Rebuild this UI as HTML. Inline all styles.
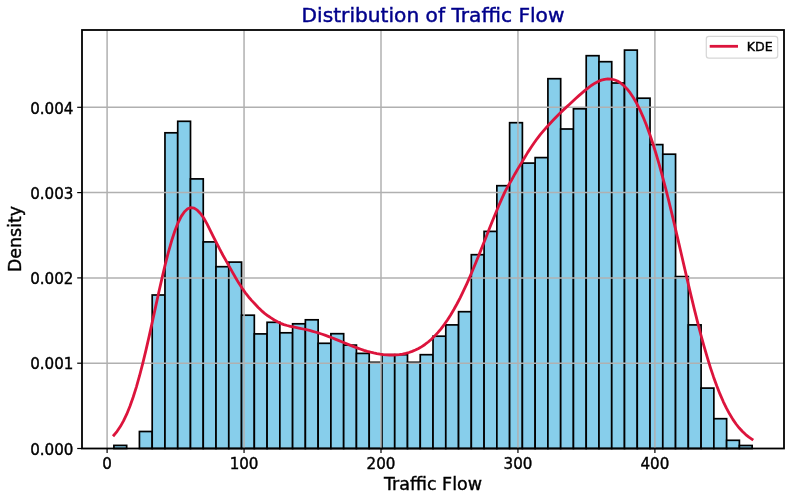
<!DOCTYPE html>
<html lang="en"><head><meta charset="utf-8"><title>Distribution of Traffic Flow</title>
<style>
html,body{margin:0;padding:0;background:#fff;}
body{width:791px;height:499px;overflow:hidden;}
svg{display:block;}
text{font-family:'DejaVu Sans','Liberation Sans',sans-serif;fill:#000;stroke:#000;stroke-width:0.4px;}
</style></head><body>
<svg width="791" height="499" viewBox="0 0 791 499">
<rect width="791" height="499" fill="#fff"/>

<g fill="#87ceeb" stroke="#000" stroke-width="1.7" stroke-linejoin="miter">
<rect x="113.90" y="445.40" width="12.765" height="3.10"/>
<rect x="126.67" y="448.50" width="12.765" height="0.00"/>
<rect x="139.43" y="431.50" width="12.765" height="17.00"/>
<rect x="152.19" y="295.00" width="12.765" height="153.50"/>
<rect x="164.96" y="132.80" width="12.765" height="315.70"/>
<rect x="177.73" y="121.30" width="12.765" height="327.20"/>
<rect x="190.49" y="178.90" width="12.765" height="269.60"/>
<rect x="203.25" y="241.90" width="12.765" height="206.60"/>
<rect x="216.02" y="266.70" width="12.765" height="181.80"/>
<rect x="228.79" y="262.10" width="12.765" height="186.40"/>
<rect x="241.55" y="315.20" width="12.765" height="133.30"/>
<rect x="254.32" y="333.90" width="12.765" height="114.60"/>
<rect x="267.08" y="322.30" width="12.765" height="126.20"/>
<rect x="279.85" y="332.80" width="12.765" height="115.70"/>
<rect x="292.61" y="323.80" width="12.765" height="124.70"/>
<rect x="305.38" y="319.80" width="12.765" height="128.70"/>
<rect x="318.14" y="343.30" width="12.765" height="105.20"/>
<rect x="330.90" y="333.70" width="12.765" height="114.80"/>
<rect x="343.67" y="345.10" width="12.765" height="103.40"/>
<rect x="356.44" y="353.40" width="12.765" height="95.10"/>
<rect x="369.20" y="362.30" width="12.765" height="86.20"/>
<rect x="381.97" y="354.70" width="12.765" height="93.80"/>
<rect x="394.73" y="354.70" width="12.765" height="93.80"/>
<rect x="407.50" y="362.30" width="12.765" height="86.20"/>
<rect x="420.26" y="354.70" width="12.765" height="93.80"/>
<rect x="433.02" y="336.20" width="12.765" height="112.30"/>
<rect x="445.79" y="324.90" width="12.765" height="123.60"/>
<rect x="458.56" y="311.70" width="12.765" height="136.80"/>
<rect x="471.32" y="254.70" width="12.765" height="193.80"/>
<rect x="484.09" y="231.40" width="12.765" height="217.10"/>
<rect x="496.85" y="185.70" width="12.765" height="262.80"/>
<rect x="509.62" y="122.70" width="12.765" height="325.80"/>
<rect x="522.38" y="163.10" width="12.765" height="285.40"/>
<rect x="535.14" y="157.60" width="12.765" height="290.90"/>
<rect x="547.91" y="78.70" width="12.765" height="369.80"/>
<rect x="560.68" y="129.00" width="12.765" height="319.50"/>
<rect x="573.44" y="108.80" width="12.765" height="339.70"/>
<rect x="586.21" y="55.70" width="12.765" height="392.80"/>
<rect x="598.97" y="61.70" width="12.765" height="386.80"/>
<rect x="611.74" y="83.00" width="12.765" height="365.50"/>
<rect x="624.50" y="50.10" width="12.765" height="398.40"/>
<rect x="637.26" y="98.20" width="12.765" height="350.30"/>
<rect x="650.03" y="144.60" width="12.765" height="303.90"/>
<rect x="662.79" y="154.20" width="12.765" height="294.30"/>
<rect x="675.56" y="276.60" width="12.765" height="171.90"/>
<rect x="688.33" y="324.90" width="12.765" height="123.60"/>
<rect x="701.09" y="388.10" width="12.765" height="60.40"/>
<rect x="713.86" y="418.70" width="12.765" height="29.80"/>
<rect x="726.62" y="440.30" width="12.765" height="8.20"/>
<rect x="739.38" y="445.50" width="12.765" height="3.00"/>
</g>
<g stroke="#b0b0b0" stroke-width="1.5" fill="none">
<line x1="107.10" y1="30.0" x2="107.10" y2="448.5"/>
<line x1="244.05" y1="30.0" x2="244.05" y2="448.5"/>
<line x1="381.00" y1="30.0" x2="381.00" y2="448.5"/>
<line x1="517.95" y1="30.0" x2="517.95" y2="448.5"/>
<line x1="654.90" y1="30.0" x2="654.90" y2="448.5"/>
<line x1="82.0" y1="363.20" x2="784.0" y2="363.20"/>
<line x1="82.0" y1="277.90" x2="784.0" y2="277.90"/>
<line x1="82.0" y1="192.60" x2="784.0" y2="192.60"/>
<line x1="82.0" y1="107.30" x2="784.0" y2="107.30"/>
</g>
<path d="M113.90,435.18 L117.11,431.32 L120.31,426.59 L123.52,420.91 L126.73,414.17 L129.94,406.30 L133.14,397.27 L136.35,387.07 L139.56,375.74 L142.76,363.36 L145.97,350.09 L149.18,336.09 L152.38,321.61 L155.59,306.92 L158.80,292.30 L162.01,278.08 L165.21,264.56 L168.42,252.03 L171.63,240.76 L174.83,230.95 L178.04,222.78 L181.25,216.34 L184.45,211.69 L187.66,208.80 L190.87,207.60 L194.08,208.13 L197.28,210.17 L200.49,213.51 L203.70,218.04 L206.90,223.61 L210.11,230.14 L213.32,236.57 L216.53,242.81 L219.73,249.21 L222.94,255.27 L226.15,260.86 L229.35,266.64 L232.56,272.43 L235.77,278.04 L238.97,283.35 L242.18,288.28 L245.39,292.82 L248.60,296.98 L251.80,300.61 L255.01,304.02 L258.22,307.49 L261.42,310.61 L264.63,313.37 L267.84,315.77 L271.04,317.94 L274.25,319.97 L277.46,321.79 L280.67,323.35 L283.87,324.59 L287.08,325.50 L290.29,326.28 L293.49,326.99 L296.70,327.66 L299.91,328.32 L303.12,329.00 L306.32,329.71 L309.53,330.48 L312.74,331.32 L315.94,332.23 L319.15,333.21 L322.36,334.27 L325.56,335.39 L328.77,336.57 L331.98,337.81 L335.19,339.08 L338.39,340.38 L341.60,341.71 L344.81,343.03 L348.01,344.35 L351.22,345.65 L354.43,346.91 L357.63,348.12 L360.84,349.26 L364.05,350.33 L367.26,351.31 L370.46,352.19 L373.67,352.96 L376.88,353.61 L380.08,354.15 L383.29,354.56 L386.50,354.84 L389.71,354.98 L392.91,354.98 L396.12,354.83 L399.33,354.52 L402.53,354.04 L405.74,353.36 L408.95,352.49 L412.15,351.40 L415.36,350.07 L418.57,348.48 L421.78,346.62 L424.98,344.47 L428.19,342.01 L431.40,339.23 L434.60,336.10 L437.81,332.63 L441.02,328.78 L444.22,324.56 L447.43,319.95 L450.64,314.94 L453.85,309.54 L457.05,303.74 L460.26,297.55 L463.47,290.98 L466.67,284.07 L469.88,276.83 L473.09,269.31 L476.29,261.56 L479.50,253.62 L482.71,245.56 L485.92,237.44 L489.12,229.34 L492.33,221.32 L495.54,213.45 L498.74,205.80 L501.95,198.43 L505.16,191.37 L508.37,185.52 L511.57,180.12 L514.78,174.19 L517.99,168.62 L521.19,163.36 L524.40,157.97 L527.61,152.63 L530.81,147.70 L534.02,143.02 L537.23,138.53 L540.44,134.35 L543.64,130.57 L546.85,127.01 L550.06,123.51 L553.26,120.07 L556.47,116.68 L559.68,113.45 L562.88,110.38 L566.09,107.39 L569.30,104.40 L572.51,101.40 L575.71,98.49 L578.92,95.64 L582.13,92.86 L585.33,90.13 L588.54,87.55 L591.75,85.21 L594.96,83.17 L598.16,81.47 L601.37,80.16 L604.58,79.29 L607.78,78.91 L610.99,79.05 L614.20,79.75 L617.40,81.06 L620.61,83.01 L623.82,85.62 L627.03,88.94 L630.23,92.98 L633.44,97.78 L636.65,103.34 L639.85,109.69 L643.06,116.83 L646.27,124.76 L649.47,133.48 L652.68,142.98 L655.89,153.21 L659.10,164.16 L662.30,175.77 L665.51,187.97 L668.72,200.70 L671.92,213.87 L675.13,227.38 L678.34,241.12 L681.55,254.99 L684.75,268.87 L687.96,282.64 L691.17,296.19 L694.37,309.41 L697.58,322.21 L700.79,334.49 L703.99,346.18 L707.20,357.21 L710.41,367.56 L713.62,377.17 L716.82,386.04 L720.03,394.15 L723.24,401.52 L726.44,408.16 L729.65,414.10 L732.86,419.36 L736.06,424.00 L739.27,428.05 L742.48,431.55 L745.69,434.56 L748.89,437.13 L752.10,439.29" fill="none" stroke="#dc143c" stroke-width="2.8" stroke-linecap="square" stroke-linejoin="round"/>
<g stroke="#000" stroke-width="1.2" fill="none">
<line x1="107.10" y1="448.5" x2="107.10" y2="453.1"/>
<line x1="244.05" y1="448.5" x2="244.05" y2="453.1"/>
<line x1="381.00" y1="448.5" x2="381.00" y2="453.1"/>
<line x1="517.95" y1="448.5" x2="517.95" y2="453.1"/>
<line x1="654.90" y1="448.5" x2="654.90" y2="453.1"/>
<line x1="82.0" y1="448.50" x2="77.2" y2="448.50"/>
<line x1="82.0" y1="363.20" x2="77.2" y2="363.20"/>
<line x1="82.0" y1="277.90" x2="77.2" y2="277.90"/>
<line x1="82.0" y1="192.60" x2="77.2" y2="192.60"/>
<line x1="82.0" y1="107.30" x2="77.2" y2="107.30"/>
</g>
<rect x="82.0" y="30.0" width="702.0" height="418.5" fill="none" stroke="#000" stroke-width="1.8"/>
<text x="107.10" y="469.3" font-size="15.12" text-anchor="middle">0</text>
<text x="244.05" y="469.3" font-size="15.12" text-anchor="middle">100</text>
<text x="381.00" y="469.3" font-size="15.12" text-anchor="middle">200</text>
<text x="517.95" y="469.3" font-size="15.12" text-anchor="middle">300</text>
<text x="654.90" y="469.3" font-size="15.12" text-anchor="middle">400</text>
<text x="73.4" y="454.70" font-size="15.12" text-anchor="end">0.000</text>
<text x="73.4" y="369.40" font-size="15.12" text-anchor="end">0.001</text>
<text x="73.4" y="284.10" font-size="15.12" text-anchor="end">0.002</text>
<text x="73.4" y="198.80" font-size="15.12" text-anchor="end">0.003</text>
<text x="73.4" y="113.50" font-size="15.12" text-anchor="end">0.004</text>
<text x="433" y="489.9" font-size="17.5" text-anchor="middle">Traffic Flow</text>
<text transform="translate(21,239.0) rotate(-90)" font-size="17.4" text-anchor="middle">Density</text>
<text x="433" y="22.4" font-size="20.16" text-anchor="middle" style="fill:#00008b;stroke:#00008b;stroke-width:0.45px">Distribution of Traffic Flow</text>
<rect x="706.3" y="36.4" width="71.4" height="21.8" rx="2.6" ry="2.6" fill="#fff" fill-opacity="0.8" stroke="#ccc" stroke-opacity="0.8" stroke-width="1.2"/>
<line x1="711.1" y1="46.3" x2="736.6" y2="46.3" stroke="#dc143c" stroke-width="2.8" stroke-linecap="square"/>
<text x="746.8" y="50.7" font-size="12.6">KDE</text>
</svg></body></html>
